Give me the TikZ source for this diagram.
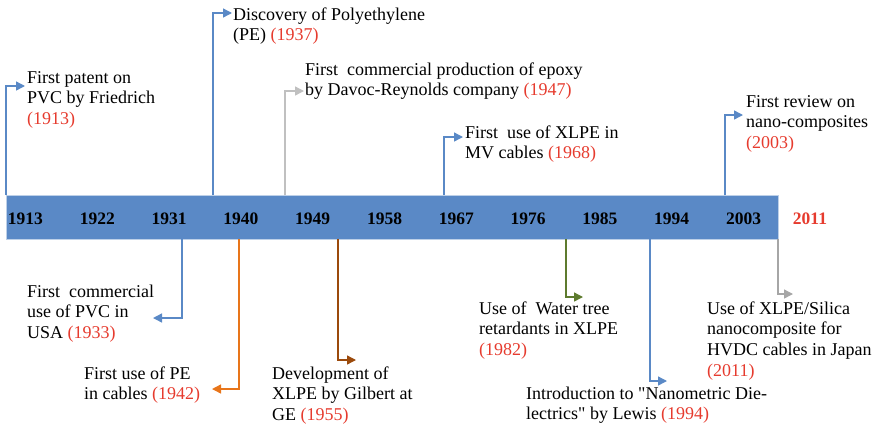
\documentclass[tikz,border=0pt]{standalone}
\usepackage{fontspec}
\setmainfont{Liberation Serif}
\usetikzlibrary{arrows.meta}
\definecolor{bar-blue}{HTML}{5A89C6}
\definecolor{ev-orange}{HTML}{E8751A}
\definecolor{ev-brown}{HTML}{9B4A0C}
\definecolor{ev-olive}{HTML}{5E7B2E}
\definecolor{ev-grey}{HTML}{C0C0C0}
\definecolor{ev-dgrey}{HTML}{A6A6A6}
\definecolor{year-red}{HTML}{E63B2E}
\newcommand{\yr}[1]{\textcolor{year-red}{(#1)}}

\begin{document}
\begin{tikzpicture}[x=1pt, y=-1pt,
      evtext/.style={align=left, inner sep=0pt, anchor=base west,
        font=\fontsize{18}{20.8}\selectfont},
      evline/.style={line width=1.4pt, -{Triangle[length=9pt,width=9pt]}},
      tick/.style={font=\fontsize{17.5}{20}\selectfont\bfseries}]
    \useasboundingbox (0,0) rectangle (880,429);
    \node[fill=bar-blue, draw=bar-blue!40, line width=0.6pt, inner sep=0pt,
          minimum width=772pt, minimum height=44pt, anchor=north west]
          (bar) at (6,195) {};
    \foreach \y [count=\i from 0] in {1913,1922,1931,1940,1949,1958,1967,1976,1985,1994,2003}
      \node[tick] (y\y) at (25.5+71.8*\i,219) {\y};
    \node[tick, text=year-red] (y2011) at (810,219) {2011};

    % texts sit on the baseline of their last line
    \node[evtext] (t1913) at (27,124.6) {First patent on\\PVC by Friedrich\\\yr{1913}};
    \node[evtext] (t1937) at (233,40.8) {Discovery of Polyethylene\\(PE) \yr{1937}};
    \node[evtext] (t1947) at (305,95.8)
          {First~ commercial production of epoxy\\by Davoc-Reynolds company \yr{1947}};
    \node[evtext] (t1968) at (465,158.8) {First~ use of XLPE in\\MV cables \yr{1968}};
    \node[evtext] (t2003) at (746,148.6) {First review on\\nano-composites\\\yr{2003}};
    \node[evtext] (t1933) at (27,338.6) {First~ commercial\\use of PVC in\\USA \yr{1933}};
    \node[evtext] (t1942) at (84,399.8) {First use of PE\\in cables \yr{1942}};
    \node[evtext] (t1955) at (272,420.6) {Development of\\XLPE by Gilbert at\\GE \yr{1955}};
    \node[evtext] (t1982) at (479,355.6) {Use of~ Water tree\\retardants in XLPE\\\yr{1982}};
    \node[evtext] (t1994) at (526,419.8)
          {Introduction to \textquotedbl Nanometric Die-\\lectrics\textquotedbl{} by Lewis \yr{1994}};
    \node[evtext] (t2011) at (707,376.4)
          {Use of XLPE/Silica\\nanocomposite for\\HVDC cables in Japan\\\yr{2011}};

    \coordinate (s1913) at (6,195);   \coordinate (a1913) at (25,86);
    \coordinate (s1937) at (213,195); \coordinate (a1937) at (232,13);
    \coordinate (s1947) at (285,195); \coordinate (a1947) at (304,91);
    \coordinate (s1968) at (444,195); \coordinate (a1968) at (463,137);
    \coordinate (s2003) at (725,195); \coordinate (a2003) at (743,115);
    \coordinate (s1933) at (182,239); \coordinate (a1933) at (153,318);
    \coordinate (s1942) at (239,239); \coordinate (a1942) at (212,389);
    \coordinate (s1955) at (338,239); \coordinate (a1955) at (356,360);
    \coordinate (s1982) at (566,239); \coordinate (a1982) at (583,297);
    \coordinate (s1994) at (650,239); \coordinate (a1994) at (667,381);
    \coordinate (s2011) at (778,239); \coordinate (a2011) at (793,294);

    \draw[evline, bar-blue] (s1913) |- (a1913);
    \draw[evline, bar-blue] (s1937) |- (a1937);
    \draw[evline, ev-grey] (s1947) |- (a1947);
    \draw[evline, bar-blue] (s1968) |- (a1968);
    \draw[evline, bar-blue] (s2003) |- (a2003);
    \draw[evline, bar-blue] (s1933) |- (a1933);
    \draw[evline, ev-orange] (s1942) |- (a1942);
    \draw[evline, ev-brown] (s1955) |- (a1955);
    \draw[evline, ev-olive] (s1982) |- (a1982);
    \draw[evline, bar-blue] (s1994) |- (a1994);
    \draw[evline, ev-dgrey] (s2011) |- (a2011);
  \end{tikzpicture}
\end{document}
